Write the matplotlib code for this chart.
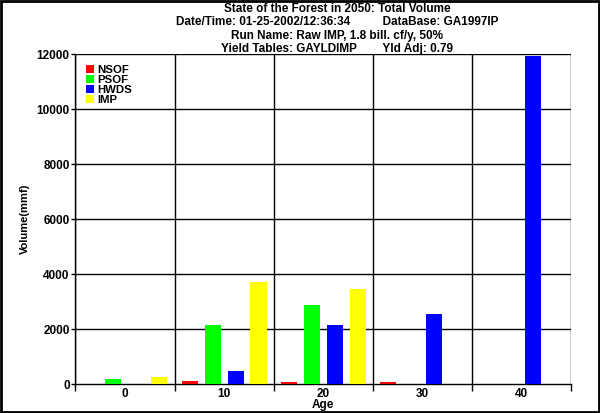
import numpy as np
import matplotlib
matplotlib.use('Agg')
import matplotlib.pyplot as plt
from matplotlib.patches import Rectangle

# data
ages = ['0', '10', '20', '30', '40']
series = ['NSOF', 'PSOF', 'HWDS', 'IMP']
colors = ['#FF0000', '#00FF00', '#0000FF', '#FFFF00']
nsof = [0, 110, 75, 75, 0]
psof = [185, 2160, 2890, 0, 0]
hwds = [0, 475, 2160, 2560, 11930]
imp = [255, 3730, 3475, 0, 0]
yticks = [0, 2000, 4000, 6000, 8000, 10000, 12000]

title_lines = ['State of the Forest in 2050: Total Volume',
               'Date/Time: 01-25-2002/12:36:34          DataBase: GA1997IP',
               'Run Name: Raw IMP, 1.8 bill. cf/y, 50%',
               'Yield Tables: GAYLDIMP        Yld Adj: 0.79']

plt.rcParams['font.family'] = ['Liberation Sans', 'DejaVu Sans']
plt.rcParams['font.weight'] = 'bold'

fig = plt.figure(figsize=(6, 4.13), dpi=100)
ax = fig.add_axes([75.3 / 600, 1 - 384.3 / 413, 496 / 600, 330 / 413])

x = np.arange(len(ages))
offsets = [-0.347, -0.116, 0.116, 0.347]
width = 0.163
for vals, name, col, off in zip([nsof, psof, hwds, imp], series, colors, offsets):
    ax.bar(x + off, vals, width, color=col, label=name, zorder=3)

ax.set_xlim(-0.5, 4.5)
ax.set_ylim(0, 12000)

# horizontal grid lines
for yv in yticks[1:]:
    ax.axhline(yv, color='black', lw=1, zorder=1)
# category boundaries
ax.set_xticks(np.arange(-0.5, 5, 1))
ax.set_xticklabels([])
ax.set_xticks(x, minor=True)
ax.set_xticklabels(ages, minor=True, fontsize=8.5, fontweight='bold')
ax.tick_params(axis='x', which='major', direction='out', length=5, width=1, color='black')
ax.tick_params(axis='x', which='minor', length=0, pad=3)
ax.grid(True, axis='x', which='major', color='black', lw=1, zorder=1)

ax.set_yticks(yticks)
ax.set_yticklabels([str(v) for v in yticks], fontsize=8.5, fontweight='bold')
ax.tick_params(axis='y', direction='out', length=3, width=1, pad=1)

for s in ['top', 'right']:
    ax.spines[s].set_visible(False)
for s in ['left', 'bottom']:
    ax.spines[s].set_linewidth(1)

ax.set_xlabel('Age', fontsize=8.5, fontweight='bold', labelpad=-1)
ax.set_ylabel('Volume(mmf)', fontsize=8, fontweight='bold', labelpad=5)

ax.legend(loc='upper left', bbox_to_anchor=(0.0, 1.0), frameon=False,
          handlelength=0.75, handleheight=0.75, handletextpad=0.3,
          labelspacing=0.0, borderaxespad=0.6, borderpad=0.3,
          prop={'weight': 'bold', 'size': 8.2})

for i, line in enumerate(title_lines):
    fig.text(0.562, 1 - (8.5 + 13.5 * i) / 413, line, ha='center', va='center',
             fontsize=8.5, fontweight='bold')

fig.patches.append(Rectangle((0.001, 0.002), 0.997, 0.996, transform=fig.transFigure,
                             fill=False, edgecolor='black', lw=2))

fig.savefig('out.png', dpi=100)
